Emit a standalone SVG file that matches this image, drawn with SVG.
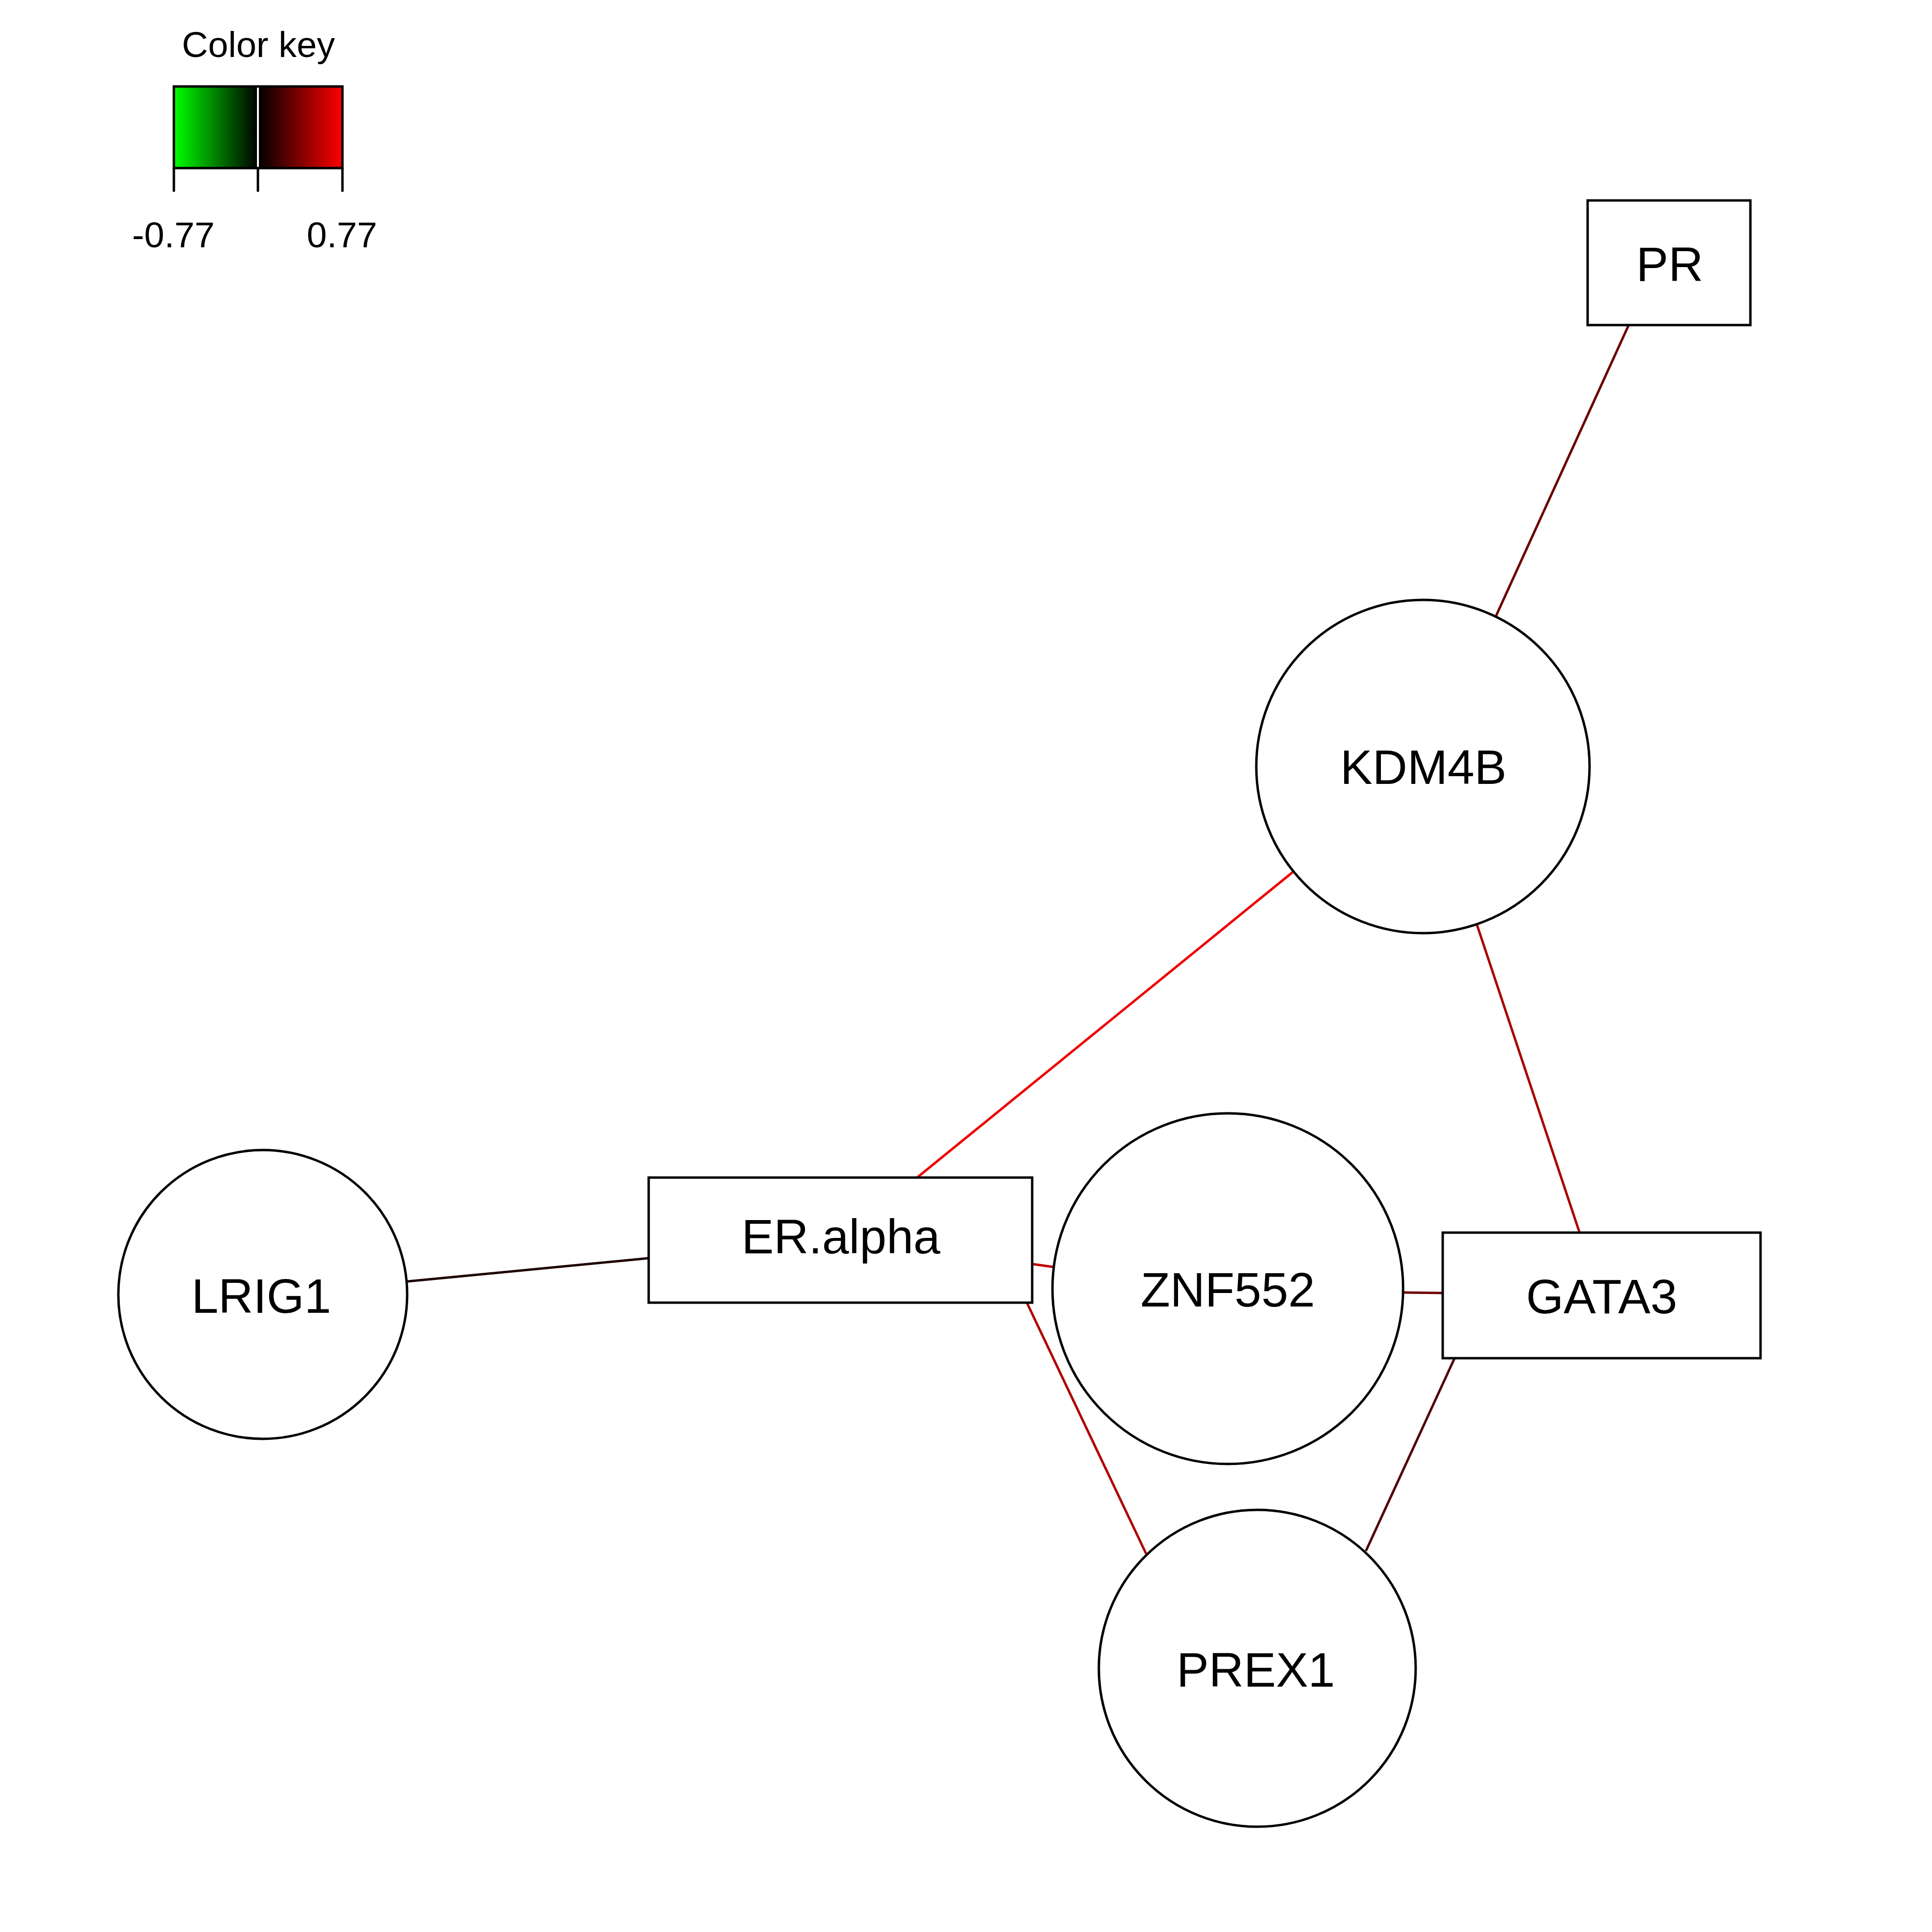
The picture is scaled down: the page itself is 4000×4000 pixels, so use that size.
<svg xmlns="http://www.w3.org/2000/svg" width="4000" height="4000" viewBox="0 0 4000 4000">
<style>
.node{fill:#fff;stroke:#000;stroke-width:5}
.lbl{font-family:"Liberation Sans",Arial,sans-serif;font-size:100px;fill:#000;text-anchor:middle}
.key{font-family:"Liberation Sans",Arial,sans-serif;font-size:75px;fill:#000;text-anchor:middle}
.edge{stroke-width:5;fill:none}
.axis{stroke:#000;stroke-width:5;fill:none;stroke-linecap:round}
</style>
<defs>
<linearGradient id="gneg" x1="0" x2="1" y1="0" y2="0"><stop offset="0" stop-color="#00ff00"/><stop offset="1" stop-color="#000000"/></linearGradient>
<linearGradient id="gpos" x1="0" x2="1" y1="0" y2="0"><stop offset="0" stop-color="#000000"/><stop offset="1" stop-color="#ff0000"/></linearGradient>
</defs>
<rect width="4000" height="4000" fill="#fff"/>
<g id="colorkey">
<text class="key" x="535" y="118">Color key</text>
<rect x="360" y="179" width="174" height="169" fill="url(#gneg)"/>
<rect x="534" y="179" width="175" height="169" fill="url(#gpos)"/>
<line x1="534" y1="181" x2="534" y2="346" stroke="#fff" stroke-width="4"/>
<rect x="360" y="179" width="349" height="169" class="axis"/>
<line class="axis" x1="360" y1="348" x2="360" y2="395"/>
<line class="axis" x1="534" y1="348" x2="534" y2="395"/>
<line class="axis" x1="709" y1="348" x2="709" y2="395"/>
<text class="key" x="359" y="512">-0.77</text>
<text class="key" x="708" y="512">0.77</text>
</g>
<g id="edges">
<line class="edge" stroke="#6a0000" x1="3372" y1="673" x2="3097" y2="1276"/>
<line class="edge" stroke="#ee0000" x1="2676" y1="1806" x2="1900" y2="2437"/>
<line class="edge" stroke="#aa0000" x1="3058" y1="1915" x2="3270" y2="2551"/>
<line class="edge" stroke="#200000" x1="844" y1="2653" x2="1342" y2="2605"/>
<line class="edge" stroke="#c00000" x1="2137" y1="2617" x2="2180" y2="2623"/>
<line class="edge" stroke="#700000" x1="2905" y1="2676" x2="2987" y2="2677"/>
<line class="edge" stroke="#b00000" x1="2126" y1="2697" x2="2373" y2="3217"/>
<line class="edge" stroke="#500000" x1="3012" y1="2811" x2="2828" y2="3211"/>
</g>
<g id="node-PR">
<rect class="node" x="3287" y="415" width="337" height="258"/>
<text class="lbl" x="3457" y="582">PR</text>
</g>
<g id="node-KDM4B">
<circle class="node" cx="2946" cy="1587" r="345"/>
<text class="lbl" x="2947" y="1623">KDM4B</text>
</g>
<g id="node-ERalpha">
<rect class="node" x="1343" y="2438" width="794" height="259"/>
<text class="lbl" x="1741" y="2595">ER.alpha</text>
</g>
<g id="node-LRIG1">
<circle class="node" cx="544" cy="2680" r="299"/>
<text class="lbl" x="541" y="2718">LRIG1</text>
</g>
<g id="node-ZNF552">
<circle class="node" cx="2542" cy="2668" r="363"/>
<text class="lbl" x="2542" y="2705">ZNF552</text>
</g>
<g id="node-GATA3">
<rect class="node" x="2987" y="2552" width="658" height="260"/>
<text class="lbl" x="3316" y="2719">GATA3</text>
</g>
<g id="node-PREX1">
<circle class="node" cx="2603" cy="3454" r="328"/>
<text class="lbl" x="2600" y="3492">PREX1</text>
</g>
</svg>
